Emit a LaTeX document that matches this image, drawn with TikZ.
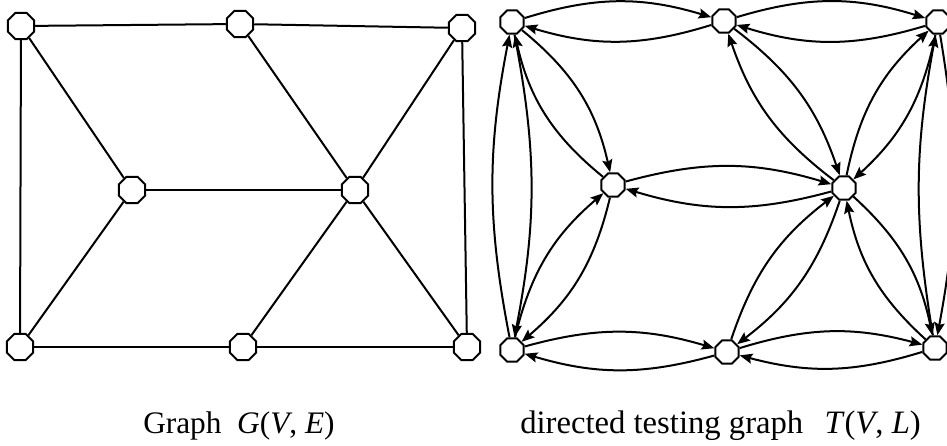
\documentclass[tikz,border=0pt]{standalone}
\usepackage{fontspec}
\setmainfont{Liberation Serif}
\usetikzlibrary{shapes.geometric,arrows.meta}

\tikzset{
  vtx/.style={draw, line width=1.5pt, regular polygon, regular polygon sides=8,
              inner sep=0pt, minimum size=21.5pt, fill=white},
  tvtx/.style={vtx, minimum size=19pt},
  edge/.style={line width=1.5pt},
  arc/.style={line width=1.5pt, -{Stealth[length=9.5pt,width=7.5pt,inset=1.5pt]}},
  caption/.style={anchor=base west, inner sep=0pt, font=\fontsize{23.5}{26}\selectfont}
}

\begin{document}
\begin{tikzpicture}[x=0.75pt, y=-0.75pt]
  \useasboundingbox (0,0) rectangle (947,446);

  % ---- undirected graph G(V,E) ----
  \node[vtx] (A) at (21,26) {};
  \node[vtx] (B) at (240,24) {};
  \node[vtx] (C) at (462,28) {};
  \node[vtx] (D) at (132,190) {};
  \node[vtx] (E) at (355,190) {};
  \node[vtx] (F) at (20,347) {};
  \node[vtx] (G) at (243,347) {};
  \node[vtx] (H) at (467,347) {};

  \foreach \u/\v in {A/B, B/C, A/F, A/D, D/F, D/E, B/E, C/E, C/H, E/G, E/H, F/G, G/H}
    \draw[edge] (\u) -- (\v);

  % ---- directed testing graph T(V,L) ----
  \node[tvtx] (a) at (512,22) {};
  \node[tvtx] (b) at (724,21) {};
  \node[tvtx] (c) at (938,22) {};
  \node[tvtx] (d) at (613,185) {};
  \node[tvtx] (e) at (844,188) {};
  \node[tvtx] (f) at (512,350) {};
  \node[tvtx] (g) at (727,352) {};
  \node[tvtx] (h) at (935,348) {};

  % every edge of G becomes a pair of opposite arcs
  \foreach \u/\v/\bnd in {a/b/17, b/c/17, a/f/11, c/h/10, a/d/19, d/f/18,
                          d/e/16, b/e/17, c/e/18, e/h/18, e/g/17, f/g/16, g/h/16} {
    \draw[arc] (\u) to[bend left=\bnd] (\v);
    \draw[arc] (\v) to[bend left=\bnd] (\u);
  }

  % ---- captions ----
  \node[caption] (capG) at (143,433) {Graph\ \ \textit{G}(\textit{V}, \textit{E})};
  \node[caption, font=\fontsize{24.5}{27}\selectfont] (capT) at (520,433)
    {directed testing graph\hspace{0.65em}\textit{T}(\textit{V}, \textit{L})};
\end{tikzpicture}
\end{document}
